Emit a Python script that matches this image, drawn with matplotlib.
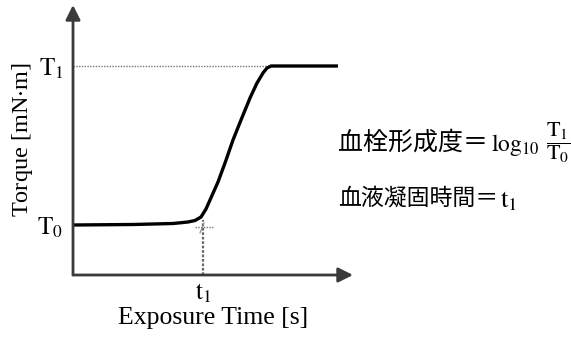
import matplotlib.pyplot as plt

plt.rcParams['font.family'] = ['Liberation Serif', 'Noto Sans CJK JP']
plt.rcParams['mathtext.fontset'] = 'stix'

# curve (time units and torque units are arbitrary)
time = [0, 60, 100, 115, 122, 128, 133, 137, 145, 152, 160, 168, 177, 184, 190, 194, 198, 265]
torque = [50, 50.5, 51.5, 53, 54.5, 58, 66, 75, 93, 112, 135, 155, 177, 192, 202, 207, 209, 209]

t1 = 130
T0 = 50
T1 = 209
t_max = 280
T_max = 270

fig = plt.figure(figsize=(5.71, 3.37), dpi=100)
ax = fig.add_axes([73 / 571, 62 / 337, 280 / 571, 270 / 337])
ax.set_xlim(0, t_max)
ax.set_ylim(0, T_max)
for s in ax.spines.values():
    s.set_visible(False)

# axes with arrow heads
axis_col = '#3a3a3a'
ax.annotate('', xy=(t_max, 0), xytext=(0, 0),
            arrowprops=dict(arrowstyle='-|>', color=axis_col, lw=2, mutation_scale=22,
                            shrinkA=0, shrinkB=0), annotation_clip=False)
ax.annotate('', xy=(0, T_max), xytext=(0, 0),
            arrowprops=dict(arrowstyle='-|>', color=axis_col, lw=2, mutation_scale=22,
                            shrinkA=0, shrinkB=0), annotation_clip=False)

# guide lines
ax.plot([0, 196], [T1, T1], color='#777777', lw=1, ls=(0, (1, 1)))
ax.plot([t1, t1], [0, 55], color='#666666', lw=1.6, ls=(0, (1.2, 0.8)))
ax.plot([122, 140], [T0 - 2, T0 - 2], color='#777777', lw=1, ls=(0, (1, 1)))
ax.plot([127, 131], [T0 - 8, T0 + 2], color='#888888', lw=0.8)

# torque curve
ax.plot(time, torque, color='black', lw=2.4, solid_capstyle='butt', clip_on=False)

ax.set_xticks([t1])
ax.set_xticklabels([r'$\mathrm{t}_1$'], fontsize=18)
ax.set_yticks([T0, T1])
ax.set_yticklabels([r'$\mathrm{T}_0$', r'$\mathrm{T}_1$'], fontsize=18)
ax.tick_params(length=0)
ax.tick_params(axis='x', pad=5)
ax.tick_params(axis='y', pad=7)

ax.set_xlabel('Exposure Time [s]', fontsize=18.5, labelpad=1)
ax.set_ylabel('Torque [mN$\\cdot$m]', fontsize=17.5, labelpad=2)

# formulas on the right
cjk = ['Noto Sans CJK JP', 'DejaVu Sans']
r = fig.canvas.get_renderer()
y1 = 1 - 143 / 337
y2 = 1 - 198 / 337
a = fig.text(338 / 571, y1, '血栓形成度＝', family=cjk, fontsize=18, va='center', ha='left')
b = fig.text(338 / 571, y2, '血液凝固時間＝', family=cjk, fontsize=16.5, va='center', ha='left')
xa = a.get_window_extent(r).x1
xb = b.get_window_extent(r).x1
lg = fig.text((xa + 3) / 571, y1 - 2 / 337, r'$\mathrm{log}_{10}$', fontsize=17, va='center', ha='left')
xl = lg.get_window_extent(r).x1
fig.text((xl + 6) / 571, y1, r'$\dfrac{\mathrm{T}_1}{\mathrm{T}_0}$',
         fontsize=16, va='center', ha='left')
fig.text((xb + 2) / 571, y2 - 3 / 337, r'$\mathrm{t}_1$', fontsize=19, va='center', ha='left')

fig.savefig('out.png', dpi=100)
